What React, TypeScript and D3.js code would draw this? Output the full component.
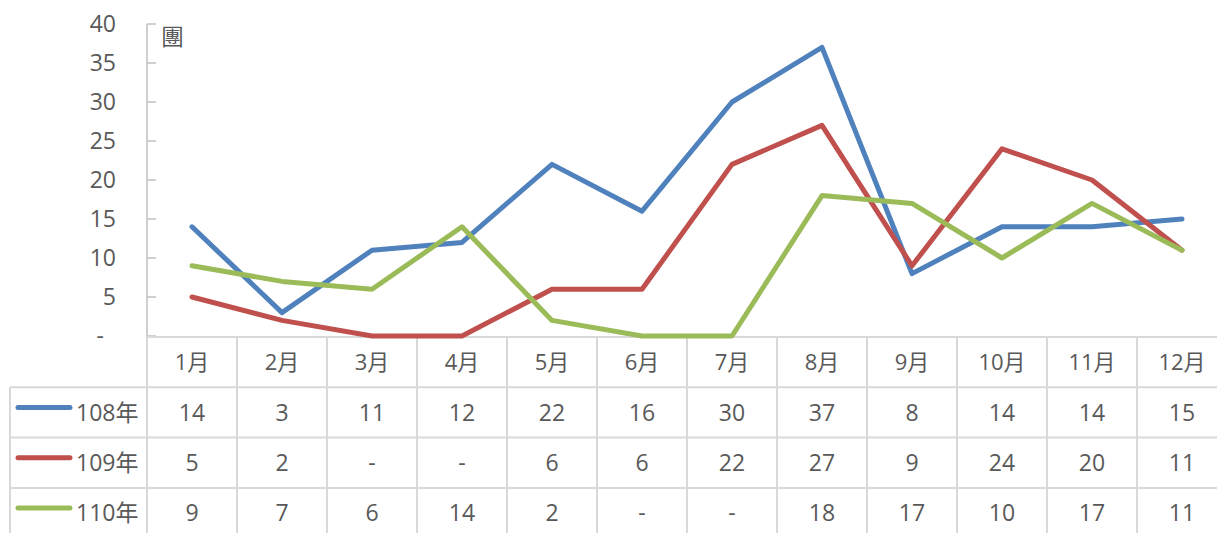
import React from "react";
import * as d3 from "d3";

const months = ["1月","2月","3月","4月","5月","6月","7月","8月","9月","10月","11月","12月"];
const seriesNames = ["108年","109年","110年"];
const s108 = [14,3,11,12,22,16,30,37,8,14,14,15];
const s109 = [5,2,0,0,6,6,22,27,9,24,20,11];
const s110 = [9,7,6,14,2,0,0,18,17,10,17,11];
const yTicks = [0,5,10,15,20,25,30,35,40];
const unitLabel = "團";
const colors = ["#4F81BD","#C0504D","#9BBB59"];

export default function App() {
  const W = 1217, H = 533;
  const left = 147, colW = 90;
  const top = 24, bottom = 336;
  const x = d3.scaleBand<string>().domain(months).range([left, left + colW * months.length]);
  const y = d3.scaleLinear().domain([0, 40]).range([bottom, top]);
  const cx = (i: number) => (x(months[i]) as number) + x.bandwidth() / 2;
  const data = [s108, s109, s110];
  const line = d3.line<number>().x((_, i) => cx(i)).y(d => y(d));
  const rowH = 50.3;
  const headerTop = 337;
  const rowTops = [0,1,2,3].map(k => headerTop + rowH * k);
  const font = "'Open Sans','Noto Sans CJK TC',sans-serif";
  const txt = "#595959";
  const grid = "#D9D9D9";
  const right = left + colW * months.length;
  const fmt = (v: number) => (v === 0 ? "-" : String(v));
  return (
    <svg width={W} height={H} style={{ position: "absolute", left: 0, top: 0, background: "#fff" }} fontFamily={font}>
      {yTicks.map(t => (
        <g key={t}>
          <line x1={left} x2={left + 9} y1={y(t)} y2={y(t)} stroke="#BFBFBF" strokeWidth={1.5} />
          <text x={t === 0 ? 104 : 116} y={y(t)} dy="0.35em" textAnchor="end" fontSize={23} fill={txt}>{fmt(t)}</text>
        </g>
      ))}
      <line x1={left} x2={left} y1={top} y2={H} stroke="#BFBFBF" strokeWidth={1.5} />
      <text x={161} y={37} dy="0.35em" fontSize={23} fill={txt}>{unitLabel}</text>
      <line x1={left} x2={right} y1={headerTop} y2={headerTop} stroke={grid} strokeWidth={2} />
      {rowTops.slice(1).map((ry, k) => (
        <line key={k} x1={10} x2={right} y1={ry} y2={ry} stroke={grid} strokeWidth={2} />
      ))}
      <line x1={10} x2={10} y1={rowTops[1]} y2={H} stroke={grid} strokeWidth={2} />
      {months.map((m) => (
        <line key={m} x1={(x(m) as number) + colW} x2={(x(m) as number) + colW} y1={headerTop} y2={H} stroke={grid} strokeWidth={2} />
      ))}
      <line x1={left} x2={left} y1={headerTop} y2={H} stroke={grid} strokeWidth={2} />
      {months.map((m, i) => (
        <text key={m} x={cx(i)} y={headerTop + rowH / 2} dy="0.35em" textAnchor="middle" fontSize={22} fill={txt}>{m}</text>
      ))}
      {data.map((s, k) => (
        <g key={k}>
          <line x1={18} x2={70} y1={rowTops[k + 1] + rowH / 2 - 5} y2={rowTops[k + 1] + rowH / 2 - 5} stroke={colors[k]} strokeWidth={5} strokeLinecap="round" />
          <text x={76} y={rowTops[k + 1] + rowH / 2} dy="0.35em" fontSize={23} fill={txt}>{seriesNames[k]}</text>
          {s.map((v, i) => (
            <text key={i} x={cx(i)} y={rowTops[k + 1] + rowH / 2} dy="0.35em" textAnchor="middle" fontSize={23} fill={txt}>{fmt(v)}</text>
          ))}
        </g>
      ))}
      {data.map((s, k) => (
        <path key={k} d={line(s) as string} fill="none" stroke={colors[k]} strokeWidth={5} strokeLinejoin="round" strokeLinecap="round" />
      ))}
    </svg>
  );
}
